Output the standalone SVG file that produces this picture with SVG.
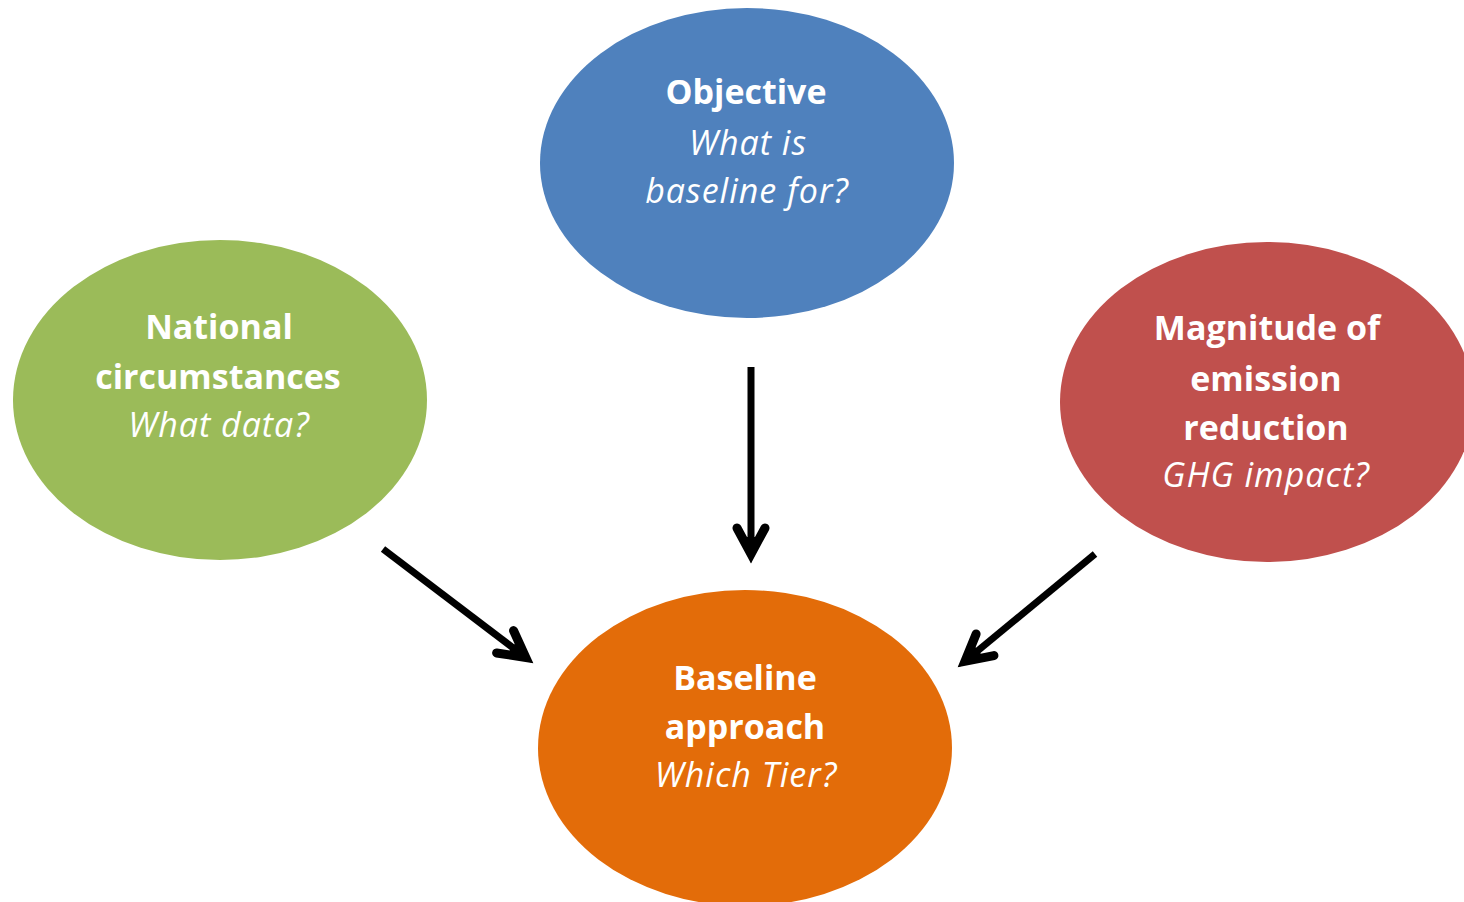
<svg xmlns="http://www.w3.org/2000/svg" width="1464" height="902" viewBox="0 0 1464 902">
<style>
.t{font-family:"Open Sans","Liberation Sans",sans-serif;font-size:34px;fill:#fff;text-anchor:middle}
.b{font-weight:bold}
.i{font-style:italic;letter-spacing:1px}
.conn{fill:none;stroke:#000;stroke-width:7;marker-end:url(#ah)}
</style>
<defs>
<marker id="ah" markerUnits="userSpaceOnUse" orient="auto" refX="0" refY="0" markerWidth="1" markerHeight="1" overflow="visible">
<path d="M-23,-14 L3,0 L-23,14" fill="none" stroke="#000" stroke-width="9" stroke-linecap="round" stroke-linejoin="miter" stroke-miterlimit="10"/>
<path d="M12,0 L-14,-10 L-14,10 Z" fill="#000"/>
</marker>
</defs>
<rect width="1464" height="902" fill="#fff"/>
<g id="objective">
<ellipse cx="747" cy="163" rx="207" ry="155" fill="#4F81BD"/>
<text class="t b" x="746" y="104">Objective</text>
<text class="t i" x="748" y="155">What is</text>
<text class="t i" x="747" y="203">baseline for?</text>
</g>
<g id="national">
<ellipse cx="220" cy="400" rx="207" ry="160" fill="#9BBB59"/>
<text class="t b" x="219" y="339">National</text>
<text class="t b" x="218" y="389">circumstances</text>
<text class="t i" x="219" y="437">What data?</text>
</g>
<g id="magnitude">
<ellipse cx="1267" cy="402" rx="207" ry="160" fill="#C0504D"/>
<text class="t b" x="1267" y="340">Magnitude of</text>
<text class="t b" x="1266" y="391">emission</text>
<text class="t b" x="1266" y="440">reduction</text>
<text class="t i" x="1266" y="487">GHG impact?</text>
</g>
<g id="baseline">
<ellipse cx="745" cy="748" rx="207" ry="158" fill="#E36C09"/>
<text class="t b" x="745" y="690">Baseline</text>
<text class="t b" x="745" y="739">approach</text>
<text class="t i" x="746" y="787">Which Tier?</text>
</g>
<g id="connectors">
<path class="conn" d="M751,367 L751,551"/>
<path class="conn" d="M383,549 L523.4,655.7"/>
<path class="conn" d="M1095,554 L967.3,659.4"/>
</g>
</svg>
